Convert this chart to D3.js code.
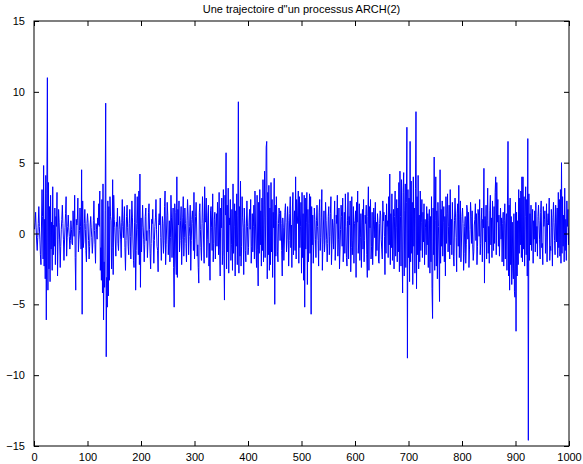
<!DOCTYPE html>
<html><head><meta charset="utf-8">
<script src="https://cdn.jsdelivr.net/npm/d3@7"></script>
<style>body{margin:0;background:#fff}svg{display:block}</style>
</head><body>
<script>
const titleText = "Une trajectoire d''un processus ARCH(2)";
const xTicks = [0,100,200,300,400,500,600,700,800,900,1000];
const yTicks = [-15,-10,-5,0,5,10,15];
const values = [
0.3,0.8,1.5,0.4,-0.6,-1.2,-0.3,0.7,1.9,0.5,-0.4,-1.5,-2.2,0.6,3.1,1.2,-1.8,4.8,-2.3,1.0,
-3.2,4.1,-6.1,2.8,11.0,-4.0,3.6,-2.5,1.9,-3.4,2.7,-1.1,0.8,-2.6,3.3,-1.5,0.6,-0.9,1.8,-2.2,
1.2,0.5,2.9,-3.0,-0.4,1.7,0.8,-0.6,-2.4,-0.9,0.3,1.0,2.0,0.7,-0.4,-1.9,-0.6,0.4,1.4,2.6,
-1.6,-0.3,0.5,1.3,0.4,-0.2,-1.1,-0.5,0.9,0.3,-0.7,-0.8,1.6,0.6,-0.2,2.7,-1.7,-4.0,1.0,0.6,
0.9,2.5,-1.3,-0.4,0.2,1.8,0.5,-1.1,4.5,-5.7,2.3,-1.0,-0.6,0.7,1.7,0.3,-1.2,-2.0,0.7,1.4,
0.8,-0.5,-1.8,-0.9,0.6,1.2,0.4,-0.3,-1.4,-0.6,0.9,2.3,0.2,-0.8,-2.1,0.7,0.3,-0.4,1.1,0.6,
2.1,0.5,3.0,-2.6,-1.0,-3.3,2.4,-4.2,3.5,-6.1,-2.0,-3.8,1.6,9.2,-8.7,-3.1,-5.2,2.3,-4.4,1.9,
-3.3,2.6,1.2,0.9,-2.5,-1.0,3.8,-2.9,2.7,1.0,0.4,-0.6,-1.6,0.8,0.5,1.8,-0.7,-1.2,0.3,1.2,
0.6,-0.4,-1.7,0.8,2.4,0.5,-0.3,0.9,1.9,-1.0,-2.6,-0.5,1.2,2.0,0.4,-0.9,-1.5,0.7,1.7,-0.2,
-1.8,0.6,2.3,1.1,-0.6,-1.9,-2.4,0.8,2.8,-4.0,-1.2,0.7,2.6,0.3,-1.5,3.0,-2.2,4.2,-3.8,1.1,
-1.3,0.4,2.0,0.6,-0.4,-2.0,-0.8,1.2,1.8,-0.5,0.2,-1.7,-0.6,1.5,2.1,0.3,-1.4,-2.5,-0.7,1.0,
0.7,1.7,-0.4,-2.1,-0.5,0.5,1.1,2.4,0.3,-0.9,-1.2,-2.7,0.8,1.4,0.6,2.5,-0.3,-1.9,-0.6,1.2,
0.7,-1.4,-0.5,1.9,3.0,-2.2,-0.8,0.6,2.2,1.3,-1.5,-0.4,0.9,-2.0,-0.3,2.7,1.1,-1.7,0.6,1.8,
-2.4,-5.2,2.1,1.5,-1.8,-2.9,4.0,-3.1,1.7,0.6,2.3,-1.3,-0.5,0.9,1.9,-2.2,-0.4,1.1,2.6,-1.6,
-0.3,1.8,0.7,-0.7,-2.0,0.9,2.4,1.3,-1.5,-0.2,0.5,2.0,-2.6,-0.5,1.0,1.6,0.7,-1.2,2.9,-1.8,
-0.4,1.2,2.2,0.6,-1.6,-0.8,-2.4,-3.5,1.5,2.1,0.3,-1.0,-1.9,0.7,2.6,1.1,-0.6,-2.1,3.3,0.8,
0.9,2.5,-1.7,-0.4,1.3,2.0,-2.3,-0.7,-3.3,1.6,1.9,0.4,-1.2,2.8,-2.0,-0.7,1.0,1.5,-1.8,0.5,
1.4,-0.9,2.2,0.6,-1.5,2.9,-1.1,-3.0,1.8,0.4,2.5,-2.2,-1.2,3.1,-1.6,-4.7,2.7,1.3,5.7,-2.5,
2.0,-1.3,3.2,-2.8,1.1,0.6,2.4,-1.9,-0.8,1.7,-2.6,3.5,-1.4,0.5,2.1,-3.0,1.6,-0.9,2.8,-2.2,
1.3,9.3,-2.8,1.9,-1.6,3.7,-2.3,-0.9,2.6,1.1,0.4,-2.9,1.8,0.7,-1.2,-2.0,0.6,2.3,0.5,-1.5,
-1.0,0.8,1.7,0.3,2.4,-2.1,-0.9,1.4,-1.3,0.5,2.0,-1.8,3.0,0.6,-1.2,-2.4,2.7,-1.1,-3.7,2.2,
-1.4,3.1,-0.8,1.6,-2.3,2.5,-1.2,3.8,-2.0,1.1,4.4,-1.7,0.6,6.1,6.5,-3.2,2.9,-1.5,3.4,-2.6,
1.8,-2.2,3.6,-1.3,2.4,-3.1,1.5,0.4,3.9,-5.0,2.0,-1.6,2.6,0.9,-1.3,-2.0,0.7,1.8,1.4,-0.5,
1.6,0.7,-1.2,-3.0,1.1,0.4,-1.9,-0.6,1.5,2.1,0.8,-1.3,-0.4,1.9,0.9,-2.3,-0.5,1.4,2.6,-1.0,
0.6,-2.4,1.8,2.9,-1.5,0.8,1.6,-1.2,4.0,-1.8,2.4,0.7,1.3,3.0,-2.1,2.6,-1.0,0.5,2.2,-2.8,
2.9,-1.7,1.4,-3.3,2.7,-5.2,2.5,-1.1,0.8,2.9,-3.6,1.7,-2.0,0.7,2.8,-1.4,2.6,-5.7,1.9,-0.8,
1.3,-2.1,-0.6,1.8,1.0,-0.4,-1.7,0.9,2.0,0.5,-0.5,-2.3,1.5,2.4,-1.2,-0.3,1.1,3.1,-2.6,-0.8,
0.6,1.6,-1.3,-0.5,2.2,0.9,-0.4,-2.0,-0.7,1.2,1.9,-1.5,-0.2,1.4,2.6,-2.2,-0.8,1.0,0.4,-1.1,
0.8,2.3,-1.9,-0.6,1.3,0.7,2.7,-1.6,-0.4,1.8,-2.5,-1.1,0.3,2.0,1.2,-0.9,2.5,-2.0,-0.6,1.5,
-1.4,2.8,0.5,-1.7,-2.3,0.9,2.9,-1.8,1.2,0.6,2.3,-2.7,-1.0,2.6,-1.5,-0.5,1.9,-2.1,0.7,0.9,
1.6,-3.1,2.2,0.8,3.0,-1.4,-0.6,2.1,-1.9,-0.3,1.4,-2.4,0.8,1.7,-1.1,2.4,-2.0,-0.5,1.3,0.7,
2.0,-1.5,-3.1,1.2,3.3,-2.6,1.9,0.4,2.4,-1.8,-0.9,1.5,-2.2,-0.6,1.8,1.0,-0.3,2.2,-1.6,0.8,
-1.2,1.4,0.6,-2.0,-2.1,0.7,1.6,1.3,-0.4,-1.1,-1.8,2.3,0.9,1.5,-0.2,-2.9,1.3,-1.4,2.1,0.5,
0.9,-1.7,2.6,-0.8,4.2,-2.2,1.4,-1.0,2.8,-1.9,0.6,1.7,-2.5,1.2,3.0,-1.6,0.4,2.4,-2.0,1.8,
-1.3,3.6,-2.7,4.4,1.2,-2.3,3.8,-1.1,-4.2,2.9,4.3,-3.0,1.6,3.5,-2.4,2.2,7.5,-8.8,3.1,-1.7,
2.5,-3.4,6.5,-2.0,3.7,-1.4,2.2,-3.6,4.0,-0.9,1.8,-2.8,3.2,8.6,-3.9,2.6,-1.5,4.1,-2.5,1.3,
-2.0,3.0,-1.2,0.8,2.4,-1.7,1.5,-0.6,2.1,-2.2,1.0,0.4,-1.5,1.9,-0.8,1.4,-2.4,0.9,1.7,-2.8,
1.2,-2.0,2.6,-3.9,-6.0,1.8,-1.5,5.4,-2.6,0.9,4.0,-2.3,1.6,-3.2,2.2,0.5,-1.8,-4.8,4.5,-2.1,
1.7,-0.9,2.3,-1.6,0.8,1.9,-2.0,1.2,-3.0,2.6,-0.7,1.4,2.8,-1.3,0.5,2.0,-1.8,3.1,-0.8,1.0,
-1.5,2.2,0.6,-1.6,-2.3,0.9,2.5,1.1,-0.3,-2.7,1.4,2.1,-0.9,3.4,-1.7,1.0,2.3,-2.0,-0.6,1.2,
1.8,0.7,-2.6,-1.4,0.5,1.2,-2.1,-0.8,2.0,1.6,-0.4,1.5,-2.4,-1.1,0.3,2.2,1.2,-0.7,1.6,-0.8,
-1.9,-1.3,0.6,1.0,2.1,-0.5,1.4,-2.2,-0.9,1.7,1.3,-0.2,2.4,-1.5,-0.7,0.9,1.8,-2.0,1.0,0.4,
4.6,-3.5,1.2,-0.6,2.0,-1.8,0.9,3.2,-1.4,0.5,-2.1,1.6,2.7,-0.8,1.1,-1.7,2.3,0.6,-1.2,1.9,
-0.7,2.9,4.0,-1.5,3.6,0.8,2.4,-0.9,1.3,-1.6,0.5,1.8,-0.4,1.1,-2.0,0.7,1.5,-2.3,0.9,2.1,
-1.8,0.6,1.4,-2.6,2.3,6.5,-3.0,2.0,-4.0,2.5,-2.2,1.2,-3.6,0.8,-2.5,-3.2,1.4,-4.1,-4.5,2.2,
-6.9,1.5,-3.0,0.9,-2.2,3.1,-1.4,2.5,-0.8,3.0,-1.7,4.0,-2.0,4.0,-1.1,2.6,-2.3,1.2,3.3,-1.5,
2.4,-3.0,6.7,-14.6,2.8,-1.9,1.4,-0.8,2.0,-1.2,0.6,1.7,-2.1,0.9,-0.4,1.6,-1.3,2.2,-0.7,0.5,
-1.6,1.2,2.0,0.9,-0.4,-1.8,1.5,2.3,-1.0,-0.7,-2.2,1.9,0.5,1.0,1.6,-1.4,-0.3,2.1,-2.0,0.8,
1.4,0.6,2.5,-1.9,-0.9,-1.2,1.7,0.4,-2.3,1.1,2.2,0.8,-0.5,-1.5,2.0,1.1,-0.6,1.8,-1.7,2.9,
-1.0,2.4,-1.6,3.1,-2.1,5.0,-1.4,2.6,-0.9,1.3,-2.0,3.2,-1.2,1.0,-1.9,2.3,0.5,1.7,-0.8,0.4
];

const W = 583, H = 464;
const m = {left: 34, right: 14, top: 21, bottom: 18};
const svg = d3.select("body").append("svg").attr("width", W).attr("height", H)
  .style("font-family", "'Liberation Sans', Arial, Helvetica, sans-serif");

const xs = d3.scaleLinear().domain([0, 1000]).range([m.left, W - m.right]);
const ys = d3.scaleLinear().domain([-15, 15]).range([H - m.bottom, m.top]);

svg.append("clipPath").attr("id", "c").append("rect")
  .attr("x", m.left).attr("y", m.top).attr("width", xs(1000) - m.left).attr("height", ys(-15) - m.top);

const lineGen = d3.line().x((d, i) => xs(i + 1)).y(d => ys(d));
svg.append("path").datum(values).attr("clip-path", "url(#c)")
  .attr("d", lineGen).attr("fill", "none").attr("stroke", "#0000ff").attr("stroke-width", 1)
  .attr("stroke-linejoin", "miter");

const tl = 5;
const axB = d3.axisBottom(xs).tickValues(xTicks).tickSizeInner(-tl).tickSizeOuter(0).tickPadding(7).tickFormat(d3.format("d"));
const axT = d3.axisTop(xs).tickValues(xTicks).tickSizeInner(-tl).tickSizeOuter(0).tickFormat("");
const axL = d3.axisLeft(ys).tickValues(yTicks).tickSizeInner(-tl).tickSizeOuter(0).tickPadding(9).tickFormat(d => d < 0 ? "\u2212" + Math.abs(d) : d);
const axR = d3.axisRight(ys).tickValues(yTicks).tickSizeInner(-tl).tickSizeOuter(0).tickFormat("");

function styleAxis(g) {
  g.selectAll(".domain").remove();
  g.selectAll("line").attr("stroke", "#000");
  g.selectAll("text").attr("font-size", 11).attr("fill", "#000").style("font-family", "'Liberation Sans', Arial, sans-serif");
}
svg.append("g").attr("transform", `translate(0,${ys(-15)})`).call(axB).call(styleAxis);
svg.append("g").attr("transform", `translate(0,${ys(15)})`).call(axT).call(styleAxis);
svg.append("g").attr("transform", `translate(${xs(0)},0)`).call(axL).call(styleAxis);
svg.append("g").attr("transform", `translate(${xs(1000)},0)`).call(axR).call(styleAxis);

svg.append("rect").attr("x", xs(0)).attr("y", ys(15)).attr("width", xs(1000) - xs(0)).attr("height", ys(-15) - ys(15))
  .attr("fill", "none").attr("stroke", "#000").attr("stroke-width", 1);

svg.append("text").attr("x", (xs(0) + xs(1000)) / 2).attr("y", 13).attr("text-anchor", "middle")
  .attr("font-size", 11).attr("fill", "#000").text(titleText);
</script>
</body></html>
